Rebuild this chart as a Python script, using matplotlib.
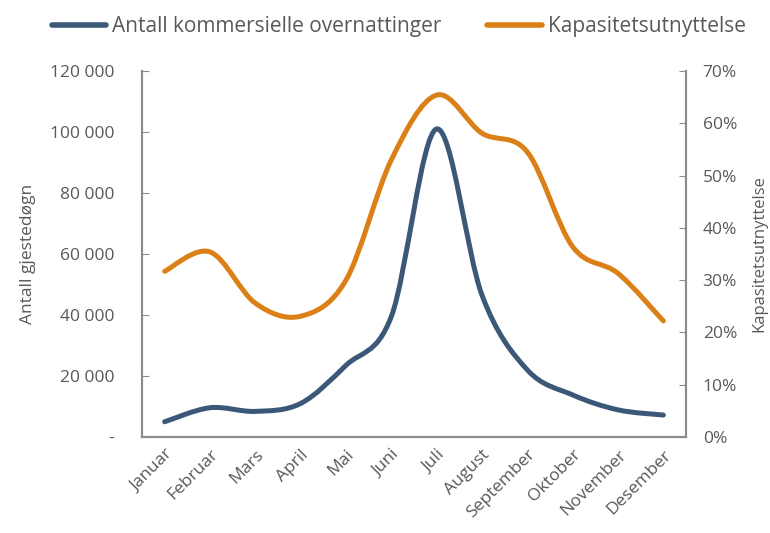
import numpy as np
import matplotlib
matplotlib.use("Agg")
import matplotlib.pyplot as plt
from matplotlib.path import Path
from matplotlib.patches import PathPatch
from matplotlib.lines import Line2D
from matplotlib.ticker import FuncFormatter

### Data
### ---------------------------
months = ["Januar", "Februar", "Mars", "April", "Mai", "Juni", "Juli",
          "August", "September", "Oktober", "November", "Desember"]
overnattinger = [5000, 9600, 8400, 11000, 23500, 39500, 101000,
                 46500, 22000, 13800, 8900, 7200]
kapasitet = [0.317, 0.354, 0.256, 0.231, 0.300, 0.530, 0.654,
             0.581, 0.545, 0.364, 0.313, 0.222]

left_ticks = [0, 20000, 40000, 60000, 80000, 100000, 120000]
right_ticks = [0.0, 0.1, 0.2, 0.3, 0.4, 0.5, 0.6, 0.7]

BLUE = "#3B5878"
ORANGE = "#DA8016"
GREY = "#595959"
SPINE = "#8C8C8C"

plt.rcParams['font.family'] = ['Open Sans', 'DejaVu Sans']


### Excel-style smoothed line (Catmull-Rom as cubic Bezier)
### -------------------------------------------------------
def smooth_path(x, y):
    x = np.asarray(x, float)
    y = np.asarray(y, float)
    n = len(x)
    verts = [(x[0], y[0])]
    codes = [Path.MOVETO]
    for i in range(n - 1):
        p0 = max(i - 1, 0)
        p3 = min(i + 2, n - 1)
        c1 = (x[i] + (x[i+1] - x[p0]) / 6, y[i] + (y[i+1] - y[p0]) / 6)
        c2 = (x[i+1] - (x[p3] - x[i]) / 6, y[i+1] - (y[p3] - y[i]) / 6)
        verts += [c1, c2, (x[i+1], y[i+1])]
        codes += [Path.CURVE4] * 3
    return Path(verts, codes)


fig = plt.figure(figsize=(7.7, 5.33), dpi=100)
ax = fig.add_axes([0.1844, 0.1801, 0.7065, 0.6867])
ax2 = ax.twinx()

xpos = np.arange(len(months))
ax.add_patch(PathPatch(smooth_path(xpos, overnattinger), facecolor="none",
                       edgecolor=BLUE, lw=3.6, capstyle="round", zorder=3))
ax2.add_patch(PathPatch(smooth_path(xpos, kapasitet), facecolor="none",
                        edgecolor=ORANGE, lw=3.6, capstyle="round", zorder=3))

ax.set_xlim(-0.5, len(months) - 0.5)
ax.set_ylim(0, 120000)
ax2.set_ylim(0, 0.7)

ax.set_xticks(xpos)
ax.set_xticklabels(months, rotation=45, ha="right", rotation_mode="anchor",
                   fontsize=12.5, color=GREY)
ax.tick_params(axis="x", length=0, pad=7)

ax.set_yticks(left_ticks)
ax.yaxis.set_major_formatter(FuncFormatter(
    lambda v, p: "-" if v == 0 else f"{int(v):,}".replace(",", " ")))
ax.tick_params(axis="y", direction="in", length=5, color=SPINE,
               labelsize=12.5, labelcolor=GREY, pad=20)

ax2.set_yticks(right_ticks)
ax2.yaxis.set_major_formatter(FuncFormatter(lambda v, p: f"{v*100:.0f}%"))
ax2.tick_params(axis="y", direction="in", length=5, color=SPINE,
                labelsize=12.5, labelcolor=GREY, pad=12)

for a in (ax, ax2):
    a.spines["top"].set_visible(False)
    for s in ("left", "right", "bottom"):
        a.spines[s].set_color(SPINE)
        a.spines[s].set_linewidth(1.5)

ax.set_ylabel("Antall gjestedøgn", fontsize=12.5, color=GREY, labelpad=10)
ax2.set_ylabel("Kapasitetsutnyttelse", fontsize=12, color=GREY, labelpad=10)

### Legend
handles = [Line2D([], [], color=BLUE, lw=4, solid_capstyle="round"),
           Line2D([], [], color=ORANGE, lw=4, solid_capstyle="round")]
fig.legend(handles, ["Antall kommersielle overnattinger", "Kapasitetsutnyttelse"],
           loc="upper center", bbox_to_anchor=(0.518, 1.005), ncol=2, frameon=False,
           fontsize=15, labelcolor=GREY, handlelength=2.6, handletextpad=0.3,
           columnspacing=2.2)

fig.savefig("out.png", dpi=100)
